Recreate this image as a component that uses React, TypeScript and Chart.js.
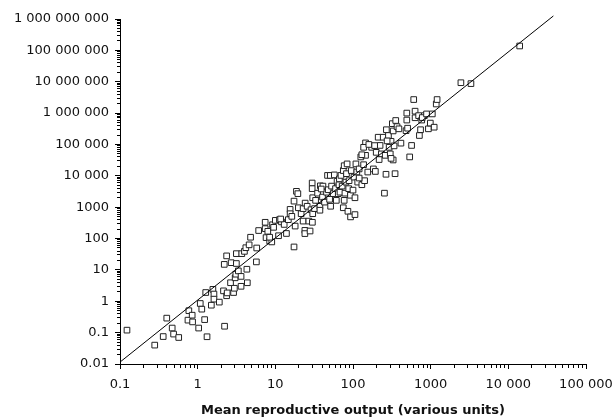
import { useEffect, useRef } from 'react';
import { Chart, registerables } from 'chart.js';

Chart.register(...registerables);

// Axis tick labels (one per decade)
const xTickLabels = ['0.1', '1', '10', '100', '1000', '10 000', '100 000'];
const yTickLabels = ['0.01', '0.1', '1', '10', '100', '1000', '10 000', '100 000', '1 000 000', '10 000 000', '100 000 000', '1 000 000 000'];
const xMinExp = -1;
const xMaxExp = 5;
const yMinExp = -2;
const yMaxExp = 9;

const xTitle = 'Mean reproductive output (various units)';

// Scatter values
const outputX = [
  0.123, 0.28, 0.36, 0.40, 0.47, 0.49, 0.57, 0.77, 0.75, 0.85, 0.86, 1.03, 1.08, 1.13, 1.23, 1.27, 1.32, 1.5, 1.57, 1.62,
  1.62, 1.9, 2.15, 2.22, 2.2, 2.36, 2.36, 2.4, 2.65, 2.7, 2.9, 2.97, 3.04, 3.15, 3.15, 3.1, 3.34, 3.62, 3.62, 3.7,
  4.0, 4.17, 4.3, 4.36, 4.6, 4.8, 5.7, 5.76, 6.1, 7.4, 7.4, 7.6, 8, 8.45, 9, 9.2, 9.5, 10, 11, 11.3,
  12, 13, 13.9, 14.7, 15.5, 15.5, 16.3, 17.4, 17.4, 18, 18.7, 19.5, 19.8, 21.5, 22.8, 22.8, 24, 24, 24.2, 25.7,
  27, 28, 28.8, 29.8, 29.8, 30.3, 30.3, 32, 35, 36, 37.5, 37.5, 38, 40.5, 41, 43, 45.6, 47, 48, 50,
  51, 51.5, 53, 55.6, 57.5, 59.6, 61, 62.4, 64.6, 66, 66.8, 68, 70, 72.5, 75, 75, 77, 78.7, 81, 82.4,
  84, 86, 88, 89, 92.7, 93, 95, 100, 103, 106, 106, 109, 112, 115, 120, 126, 130, 137, 141, 145,
  145, 137, 155, 174, 183, 194, 199, 211, 223, 232, 245, 254, 260, 266, 269, 286, 292, 302, 309, 321,
  329, 329, 348, 355, 369, 390, 414, 482, 493, 493, 537, 568, 605, 630, 630, 700, 716, 741, 767, 830,
  935, 990, 1050, 1110, 1180, 1210, 2450, 3300, 14000,
  8.45, 11.7, 30, 33, 39, 77, 120, 130, 160, 190, 217, 275, 309, 338, 505, 780, 885,
];
const valueY = [
  0.12, 0.04, 0.075, 0.29, 0.14, 0.09, 0.07, 0.5, 0.25, 0.36, 0.22, 0.14, 0.85, 0.56, 0.26, 1.9, 0.074, 0.75, 2.4, 1.7,
  1.17, 0.94, 2.15, 0.16, 15, 28, 1.5, 1.85, 3.9, 17, 1.9, 2.6, 5.6, 33, 16, 7.3, 9.3, 6.2, 3.0, 33,
  39, 51, 10.5, 3.9, 63, 110, 18, 50, 180, 330, 207, 107, 170, 84, 78, 275, 228, 380, 123, 400,
  340, 282, 145, 400, 850, 620, 510, 1560, 54, 250, 3200, 2700, 960, 620, 900, 360, 182, 144, 1350, 1070,
  360, 174, 830, 5900, 3900, 2000, 620, 900, 2800, 1650, 1070, 800, 4800, 2100, 4700, 1450, 3000, 10300, 3600, 1780,
  10300, 1070, 4700, 2700, 10700, 3900, 1650, 6700, 2700, 5200, 8000, 3000, 10300, 4700, 14700, 960, 21000, 2800, 6300, 11700,
  24000, 740, 3900, 7000, 2400, 490, 14700, 3500, 9100, 2000, 580, 24000, 13200, 6300, 16600, 40000, 5200, 22600, 7000, 45000,
  112000, 81000, 13200, 81000, 16600, 13800, 56000, 170000, 93000, 50000, 170000, 2800, 45000, 11200, 295000, 193000, 81000, 50000, 126000, 460000,
  270000, 32000, 11700, 580000, 370000, 315000, 110000, 275000, 1000000, 600000, 40000, 93000, 2700000, 1150000, 710000, 830000, 193000, 295000, 600000, 830000,
  315000, 480000, 940000, 355000, 1950000, 2700000, 9300000, 8700000, 138000000,
  110, 420, 330, 1650, 3800, 1650, 8500, 47000, 100000, 92000, 33000, 130000, 36000, 90000, 330000, 720000, 940000,
];

// Fitted line end points
const fitX = [0.1, 38000];
const fitY = [0.0115, 1.25e9];

function logTicks(minExp: number, maxExp: number) {
  const t: { value: number; major: boolean }[] = [];
  for (let e = minExp; e <= maxExp; e++) {
    t.push({ value: Math.pow(10, e), major: true });
    if (e < maxExp) {
      for (let k = 2; k <= 9; k++) t.push({ value: k * Math.pow(10, e), major: false });
    }
  }
  return t;
}

const FONT = 'DejaVu Sans';

export default function App() {
  const ref = useRef<HTMLCanvasElement | null>(null);

  useEffect(() => {
    if (!ref.current) return;
    const points = outputX.map((x, i) => ({ x, y: valueY[i] }));
    const line = fitX.map((x, i) => ({ x, y: fitY[i] }));

    const chart = new Chart(ref.current, {
      type: 'scatter',
      data: {
        datasets: [
          {
            type: 'line',
            data: line,
            borderColor: '#000',
            borderWidth: 1,
            pointRadius: 0,
            fill: false,
            clip: false as any,
            order: 0,
          } as any,
          {
            data: points,
            pointStyle: 'rect',
            pointRadius: 4,
            pointBorderWidth: 1,
            pointBorderColor: '#222',
            pointBackgroundColor: '#fff',
            order: 1,
          },
        ],
      },
      options: {
        responsive: false,
        animation: false,
        layout: { padding: { left: 0, right: 27, top: 19, bottom: 0 } },
        plugins: { legend: { display: false }, tooltip: { enabled: false }, title: { display: false } },
        scales: {
          x: {
            type: 'logarithmic',
            min: Math.pow(10, xMinExp),
            max: Math.pow(10, xMaxExp),
            afterBuildTicks: (scale: any) => {
              scale.ticks = logTicks(xMinExp, xMaxExp);
            },
            afterFit: (scale: any) => {
              scale.height = 56;
              scale.paddingLeft = 0;
              scale.paddingRight = 0;
            },
            border: { display: true, color: '#000', width: 1 },
            grid: {
              display: true,
              drawOnChartArea: false,
              drawTicks: true,
              tickLength: 5,
              tickColor: '#000',
              tickWidth: 1,
              tickBorderDash: (ctx: any) => (ctx.tick && !ctx.tick.major ? [3, 20] : []),
            },
            ticks: {
              autoSkip: false,
              maxRotation: 0,
              minRotation: 0,
              padding: 8,
              color: '#111',
              font: { family: FONT, size: 13 },
              callback: (_v: any, i: number, ticks: any[]) => {
                const t = ticks[i];
                if (!t || !t.major) return '';
                return xTickLabels[Math.round(Math.log10(t.value)) - xMinExp];
              },
            },
            title: {
              display: true,
              text: xTitle,
              color: '#111',
              font: { family: FONT, size: 13, weight: 'bold' },
              padding: { top: 0, bottom: 2 },
            },
          },
          y: {
            type: 'logarithmic',
            min: Math.pow(10, yMinExp),
            max: Math.pow(10, yMaxExp),
            afterBuildTicks: (scale: any) => {
              scale.ticks = logTicks(yMinExp, yMaxExp);
            },
            afterFit: (scale: any) => {
              scale.width = 120;
              scale.paddingTop = 0;
              scale.paddingBottom = 0;
            },
            border: { display: true, color: '#000', width: 1 },
            grid: {
              display: true,
              drawOnChartArea: false,
              drawTicks: true,
              tickLength: 5,
              tickColor: '#000',
              tickWidth: 1,
              tickBorderDash: (ctx: any) => (ctx.tick && !ctx.tick.major ? [0, 2, 20] : []),
            },
            ticks: {
              autoSkip: false,
              padding: 6,
              color: '#111',
              font: { family: FONT, size: 13 },
              callback: (_v: any, i: number, ticks: any[]) => {
                const t = ticks[i];
                if (!t || !t.major) return '';
                return yTickLabels[Math.round(Math.log10(t.value)) - yMinExp];
              },
            },
          },
        },
      },
    });
    return () => chart.destroy();
  }, []);

  return (
    <div style={{ position: 'fixed', left: 0, top: 0, width: 613, height: 420, background: '#fff' }}>
      <canvas ref={ref} width={613} height={420} style={{ display: 'block' }} />
    </div>
  );
}
